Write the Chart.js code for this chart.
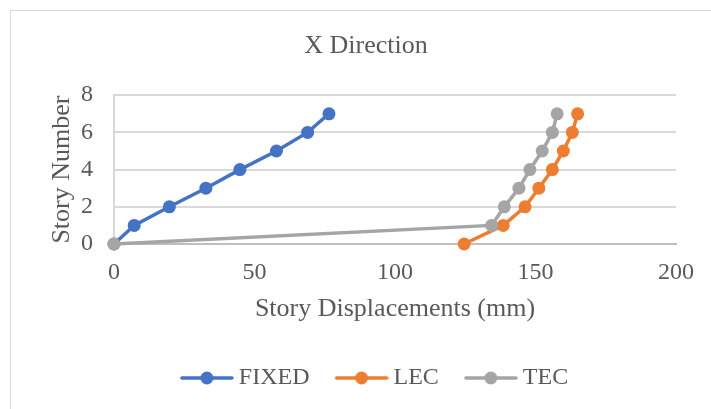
<!DOCTYPE html>
<html>
<head>
<meta charset="utf-8">
<script src="https://cdn.jsdelivr.net/npm/chart.js@4/dist/chart.umd.min.js"></script>
<style>
  html, body { margin: 0; padding: 0; background: #fff; }
  #wrap { position: relative; width: 711px; height: 409px; overflow: hidden; }
  #frame { position: absolute; left: 10px; top: 10px; width: 720px; height: 420px; border: 1px solid #d9d9d9; }
  #chart { position: absolute; left: 0; top: 0; }
</style>
</head>
<body>
<div id="wrap">
  <div id="frame"></div>
  <canvas id="chart" width="711" height="409"></canvas>
</div>
<script>
// Story displacement data (mm) per story
const stories = [0, 1, 2, 3, 4, 5, 6, 7];
const fixedDisp = [0, 7.2, 19.7, 32.7, 44.8, 57.8, 68.9, 76.5];
const lecDisp = [124.6, 138.5, 146.3, 151.2, 156.0, 159.9, 163.1, 165.0];
const tecDisp = [0, 134.4, 138.9, 144.1, 148.0, 152.4, 156.0, 157.7];
const seriesNames = ['FIXED', 'LEC', 'TEC'];
const seriesColors = ['#4472C4', '#ED7D31', '#A5A5A5'];

const FONT = '"Liberation Serif", "Times New Roman", serif';
const TEXT = '#595959';

const toPoints = (xs) => xs.map((x, i) => ({ x: x, y: stories[i] }));

// legend marker: short line with a dot, like the Excel legend
function legendIcon(color) {
    const c = document.createElement('canvas');
    c.width = 77;
    c.height = 16;
    const g = c.getContext('2d');
    g.strokeStyle = color;
    g.lineWidth = 3.5;
    g.lineCap = 'round';
    g.beginPath();
    g.moveTo(25, 8);
    g.lineTo(75, 8);
    g.stroke();
    g.fillStyle = color;
    g.beginPath();
    g.arc(50, 8, 6.5, 0, Math.PI * 2);
    g.fill();
    return c;
}

const allSeries = [fixedDisp, lecDisp, tecDisp];
const datasets = allSeries.map((xs, i) => ({
    label: seriesNames[i],
    data: toPoints(xs),
    showLine: true,
    borderColor: seriesColors[i],
    backgroundColor: seriesColors[i],
    borderWidth: 3.5,
    pointRadius: 6.5,
    pointHoverRadius: 6.5,
    pointBorderWidth: 0,
    clip: false,
    order: 2 - i
}));

new Chart(document.getElementById('chart'), {
    type: 'scatter',
    data: { datasets: datasets },
    options: {
        responsive: false,
        animation: false,
        events: [],
        layout: { padding: { left: 21, right: 0, top: 10, bottom: 9 } },
        plugins: {
            title: {
                display: true,
                text: 'X Direction',
                color: TEXT,
                font: { family: FONT, size: 26, weight: 'normal' },
                padding: { top: 21, bottom: 33 }
            },
            legend: {
                position: 'bottom',
                labels: {
                    usePointStyle: true,
                    pointStyleWidth: 63,
                    padding: 9,
                    color: TEXT,
                    font: { family: FONT, size: 24 },
                    generateLabels: (chart) => chart.data.datasets.map((ds, i) => ({
                        text: ds.label,
                        fillStyle: ds.backgroundColor,
                        strokeStyle: ds.borderColor,
                        lineWidth: 0,
                        pointStyle: legendIcon(ds.borderColor),
                        fontColor: TEXT,
                        hidden: !chart.isDatasetVisible(i),
                        datasetIndex: i
                    }))
                }
            },
            tooltip: { enabled: false }
        },
        scales: {
            x: {
                type: 'linear',
                min: 0,
                max: 200,
                ticks: { stepSize: 50, color: TEXT, padding: 14, font: { family: FONT, size: 24 } },
                grid: { display: false, drawTicks: false },
                border: { color: '#bfbfbf', width: 2 },
                title: {
                    display: true,
                    text: 'Story Displacements (mm)',
                    color: TEXT,
                    font: { family: FONT, size: 26 },
                    padding: { top: 0, bottom: 32 }
                },
                afterFit: (scale) => {
                    scale.height = 113;
                    scale.paddingRight = 35;
                }
            },
            y: {
                min: 0,
                max: 8,
                ticks: { stepSize: 2, color: TEXT, padding: 21, font: { family: FONT, size: 24 } },
                grid: {
                    drawTicks: false,
                    lineWidth: 2,
                    color: (ctx) => ctx.tick && ctx.tick.value === 0 ? '#bfbfbf' : '#d9d9d9'
                },
                border: { color: '#d9d9d9', width: 2 },
                title: {
                    display: true,
                    text: 'Story Number',
                    color: TEXT,
                    font: { family: FONT, size: 26 },
                    padding: { top: 26, bottom: 0 }
                },
                afterFit: (scale) => {
                    scale.width = 93;
                }
            }
        }
    }
});
</script>
</body>
</html>
